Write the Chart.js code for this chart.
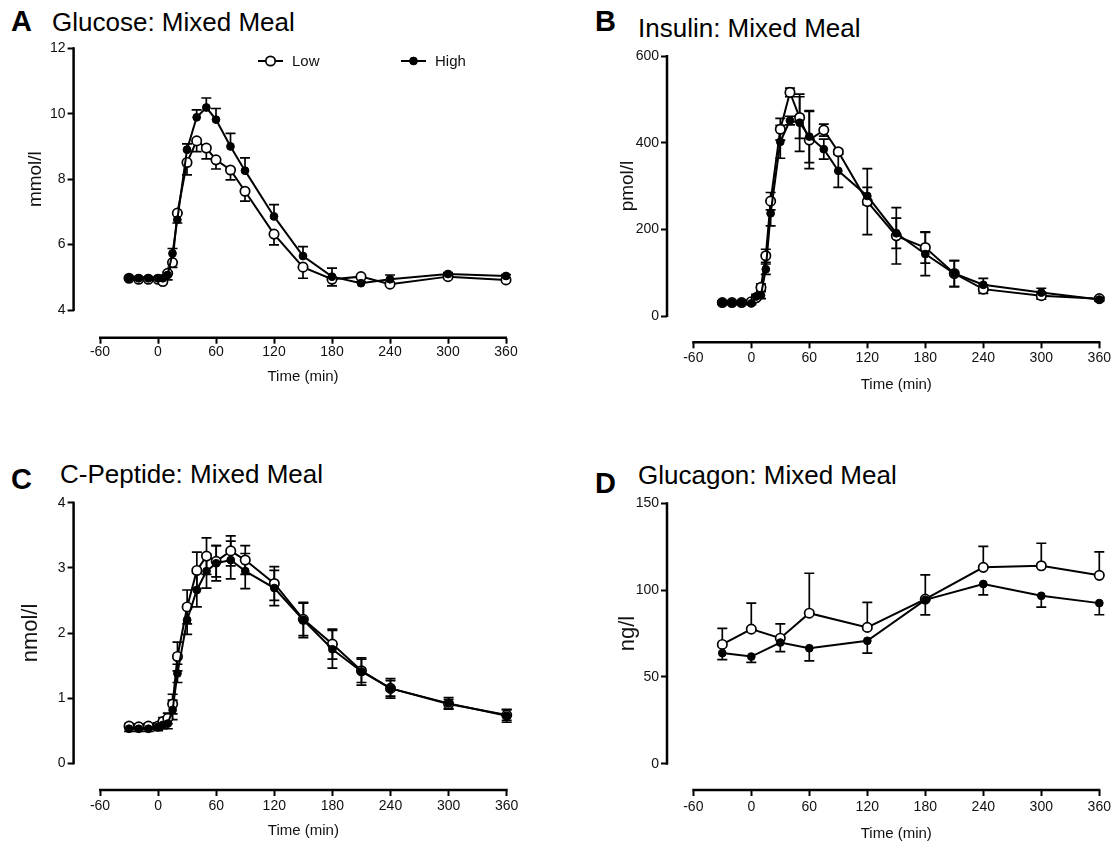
<!DOCTYPE html>
<html><head><meta charset="utf-8">
<script src="https://cdn.jsdelivr.net/npm/chart.js@4.4.1/dist/chart.umd.min.js"></script>
<style>
html,body{margin:0;padding:0;background:#fff;}
body{width:1116px;height:842px;position:relative;overflow:hidden;font-family:'Liberation Sans',Arial,sans-serif;}
canvas{position:absolute;}
.t{position:absolute;white-space:nowrap;line-height:1;color:#000;}
.L{font-weight:bold;font-size:29px;}
.T{font-size:26px;}
</style></head><body>
<div class="t L" style="left:11px;top:7px">A</div>
<div class="t T" style="left:52px;top:8.5px">Glucose: Mixed Meal</div>
<div class="t L" style="left:595px;top:7px">B</div>
<div class="t T" style="left:638px;top:14.7px">Insulin: Mixed Meal</div>
<div class="t L" style="left:11px;top:465px">C</div>
<div class="t T" style="left:60px;top:461px">C-Peptide: Mixed Meal</div>
<div class="t L" style="left:595px;top:468.5px">D</div>
<div class="t T" style="left:638px;top:462px">Glucagon: Mixed Meal</div>
<canvas id="cA" width="558" height="421" style="left:0;top:0"></canvas>
<canvas id="cB" width="558" height="421" style="left:558px;top:0"></canvas>
<canvas id="cC" width="558" height="421" style="left:0;top:421px"></canvas>
<canvas id="cD" width="558" height="421" style="left:558px;top:421px"></canvas>
<script>
// ---------- data ----------
const times = [-30,-20,-10,0,5,10,15,20,30,40,50,60,75,90,120,150,180,210,240,300,360];
const timeTicks = [-60,0,60,120,180,240,300,360];
const seriesLabels = ['Low','High'];

const glucoseTicks = [4,6,8,10,12];
const glucoseLow     = [4.97,4.94,4.94,4.94,4.87,5.12,5.45,6.96,8.51,9.17,8.95,8.59,8.28,7.63,6.32,5.31,4.94,5.02,4.79,5.02,4.92];
const glucoseLowSem  = [0.03,0.03,0.03,0.04,0.05,0.2,0.15,0.3,0.38,0.33,0.33,0.28,0.3,0.3,0.33,0.34,0.2,0.05,0.05,0.05,0.05];
const glucoseHigh    = [4.97,4.97,4.97,4.97,4.97,5.07,5.73,6.76,8.9,9.89,10.19,9.82,9.0,8.26,6.86,5.65,5.02,4.82,4.94,5.10,5.04];
const glucoseHighSem = [0.03,0.03,0.03,0.03,0.05,0.1,0.15,0.2,0.18,0.23,0.29,0.34,0.4,0.39,0.36,0.29,0.26,0.05,0.13,0.04,0.04];

const insulinTicks = [0,200,400,600];
const insulinLow     = [31,31,31,33,42,66,139,265,431,516,458,406,429,379,264,185,158,98,62,47,40];
const insulinLowSem  = [3,3,3,3,5,8,15,20,25,10,48,66,14,5,76,65,36,30,10,8,4];
const insulinHigh    = [31,31,31,29,45,48,108,237,402,451,446,414,385,335,277,191,143,98,72,54,38];
const insulinHighSem = [3,3,3,3,5,8,12,29,38,10,66,60,23,38,20,35,50,30,15,10,4];

const cpepTicks = [0,1,2,3,4];
const cpepLow     = [0.57,0.56,0.57,0.57,0.64,0.69,0.91,1.64,2.40,2.96,3.18,3.10,3.26,3.12,2.76,2.21,1.83,1.42,1.15,0.91,0.74];
const cpepLowSem  = [0.04,0.04,0.04,0.05,0.06,0.08,0.15,0.22,0.26,0.28,0.28,0.24,0.23,0.22,0.26,0.25,0.23,0.18,0.12,0.07,0.08];
const cpepHigh    = [0.53,0.53,0.53,0.56,0.59,0.61,0.82,1.38,2.20,2.66,2.95,3.07,3.12,2.95,2.69,2.20,1.75,1.41,1.15,0.92,0.73];
const cpepHighSem = [0.04,0.04,0.04,0.06,0.06,0.08,0.15,0.14,0.22,0.26,0.26,0.27,0.29,0.27,0.27,0.27,0.29,0.21,0.15,0.09,0.1];

const glucagonTimes = [-30,0,30,60,120,180,240,300,360];
const glucagonTicks = [0,50,100,150];
const glucagonLow     = [68.7,77.5,72.3,86.7,78.5,94.8,113.1,114.0,108.5];
const glucagonLowSem  = [9.2,15,8.3,23,14.4,14,12.1,13,13.5];
const glucagonHigh    = [63.7,61.7,69.8,66.5,70.8,94.4,103.5,96.7,92.5];
const glucagonHighSem = [3.8,3.3,5.2,7.3,7.1,8.7,6.2,6.5,6.7];

// ---------- layout / style ----------
const FONT = "'Liberation Sans', Arial, sans-serif";
const W = 558, H = 421;

const prismPlugin = {
  id: 'prism',
  beforeDatasetsDraw(chart, args, o) {
    const ctx = chart.ctx, xs = chart.scales.x, ys = chart.scales.y;
    const ca = chart.chartArea;
    ctx.save();
    ctx.strokeStyle = '#000';
    ctx.lineWidth = 2.5;
    ctx.lineCap = 'butt';
    const yt = o.yTicks;
    ctx.beginPath();
    ctx.moveTo(ca.left, ys.getPixelForValue(yt[yt.length-1]) - 1);
    ctx.lineTo(ca.left, ys.getPixelForValue(yt[0]) + 1);
    ctx.stroke();
    ctx.beginPath();
    ctx.moveTo(xs.getPixelForValue(timeTicks[0]) - 1, ca.bottom);
    ctx.lineTo(xs.getPixelForValue(timeTicks[timeTicks.length-1]) + 1, ca.bottom);
    ctx.stroke();
    // error bars
    ctx.lineWidth = 1.7;
    chart.data.datasets.forEach((ds, di) => {
      const meta = chart.getDatasetMeta(di);
      meta.data.forEach((el, i) => {
        const v = ds.data[i].y, e = ds.sem[i];
        const x = el.x;
        const yU = ys.getPixelForValue(v + e), yD = ys.getPixelForValue(v - e), y0 = ys.getPixelForValue(v);
        const ends = ds.errDir === 'up' ? [yU] : ds.errDir === 'down' ? [yD] : [yU, yD];
        ends.forEach(ye => {
          ctx.beginPath();
          ctx.moveTo(x, y0); ctx.lineTo(x, ye);
          ctx.moveTo(x - 5, ye); ctx.lineTo(x + 5, ye);
          ctx.stroke();
        });
      });
    });
    ctx.restore();
  },
  afterDraw(chart, args, o) {
    const ctx = chart.ctx, xs = chart.scales.x, ys = chart.scales.y;
    ctx.save();
    ctx.fillStyle = '#111';
    ctx.font = '15px ' + FONT;
    ctx.textAlign = 'center';
    ctx.textBaseline = 'middle';
    const xc = (xs.getPixelForValue(timeTicks[0]) + xs.getPixelForValue(timeTicks[timeTicks.length-1])) / 2;
    ctx.fillText('Time (min)', xc, o.xTitleY);
    const yt = o.yTicks;
    const yc = (ys.getPixelForValue(yt[0]) + ys.getPixelForValue(yt[yt.length-1])) / 2;
    ctx.translate(o.yTitleX, yc);
    ctx.rotate(-Math.PI / 2);
    ctx.font = o.yTitleSize + 'px ' + FONT;
    ctx.fillText(o.yTitle, 0, 0);
    ctx.restore();
    if (o.legend) {
      ctx.save();
      chart.data.datasets.forEach((ds, di) => {
        const L = o.legend[di];
        ctx.strokeStyle = '#000';
        ctx.lineWidth = 2;
        ctx.beginPath();
        ctx.moveTo(L.x0, L.y); ctx.lineTo(L.x0 + 25, L.y);
        ctx.stroke();
        ctx.beginPath();
        ctx.arc(L.x0 + 12.5, L.y, ds.pointRadius, 0, Math.PI * 2);
        ctx.fillStyle = ds.pointBackgroundColor;
        ctx.fill();
        ctx.lineWidth = ds.pointBorderWidth;
        ctx.stroke();
        ctx.fillStyle = '#111';
        ctx.font = '15px ' + FONT;
        ctx.textAlign = 'left';
        ctx.textBaseline = 'middle';
        ctx.fillText(ds.label, L.tx, L.y + 1);
      });
      ctx.restore();
    }
  }
};

function makeChart(p) {
  const xr = timeTicks[timeTicks.length-1] - timeTicks[0];
  const pxX = (p.x1 - p.x0) / xr;
  const xMin = timeTicks[0] - (p.x0 - p.axisX) / pxX;
  const yt = p.yTicks, yr = yt[yt.length-1] - yt[0];
  const pxY = (p.yBotPx - p.yTopPx) / yr;
  const yMin = yt[0] - (p.axisY - p.yBotPx) / pxY;
  const mk = (arr) => p.times.map((t, i) => ({x: t, y: arr[i]}));
  new Chart(document.getElementById(p.id), {
    type: 'line',
    data: { datasets: [
      { label: seriesLabels[0], data: mk(p.low), sem: p.lowSem, errDir: p.lowDir,
        borderColor: '#000', backgroundColor: '#fff', borderWidth: 2,
        pointBackgroundColor: '#fff', pointBorderColor: '#000', pointBorderWidth: 1.7, pointRadius: 4.7,
        order: 1, clip: false, tension: 0 },
      { label: seriesLabels[1], data: mk(p.high), sem: p.highSem, errDir: p.highDir,
        borderColor: '#000', backgroundColor: '#000', borderWidth: 2,
        pointBackgroundColor: '#000', pointBorderColor: '#000', pointBorderWidth: 1, pointRadius: 3.9,
        order: 0, clip: false, tension: 0 }
    ]},
    options: {
      responsive: false, animation: false, devicePixelRatio: 1,
      events: [],
      layout: { padding: { left: 0, top: p.yTopPx, right: W - p.x1, bottom: 0 } },
      plugins: {
        legend: { display: false }, tooltip: { enabled: false },
        prism: { yTicks: p.yTicks, yTitle: p.yTitle, yTitleX: p.yTitleX, yTitleSize: p.yTitleSize,
                 xTitleY: p.xTitleY, legend: p.legend }
      },
      scales: {
        x: { type: 'linear', min: xMin, max: timeTicks[timeTicks.length-1],
             afterBuildTicks: s => { s.ticks = timeTicks.map(v => ({value: v})); },
             afterFit: s => { s.height = H - p.axisY; },
             border: { display: false },
             grid: { display: true, drawOnChartArea: false, drawTicks: true, tickLength: 6, tickWidth: 2, tickColor: '#000' },
             ticks: { padding: p.xTickPad, color: '#111', font: { family: FONT, size: 14 }, maxRotation: 0, autoSkip: false,
                      callback: v => String(v) } },
        y: { type: 'linear', min: yMin, max: yt[yt.length-1],
             afterBuildTicks: s => { s.ticks = yt.map(v => ({value: v})); },
             afterFit: s => { s.width = p.axisX; },
             border: { display: false },
             grid: { display: true, drawOnChartArea: false, drawTicks: true, tickLength: 6, tickWidth: 2, tickColor: '#000' },
             ticks: { padding: 2, color: '#111', font: { family: FONT, size: 14 }, autoSkip: false,
                      callback: v => String(v) } }
      }
    },
    plugins: [prismPlugin]
  });
}

makeChart({ id: 'cA', times: times, low: glucoseLow, lowSem: glucoseLowSem, lowDir: 'down',
  high: glucoseHigh, highSem: glucoseHighSem, highDir: 'up', yTicks: glucoseTicks,
  axisX: 73.6, x0: 100, x1: 506, axisY: 337.7, yTopPx: 48.3, yBotPx: 310, xTickPad: 0,
  yTitle: 'mmol/l', yTitleX: 36, yTitleSize: 19, xTitleY: 377,
  legend: [ { x0: 258, y: 61, tx: 292 }, { x0: 401, y: 61, tx: 435 } ] });

makeChart({ id: 'cB', times: times, low: insulinLow, lowSem: insulinLowSem, lowDir: 'both',
  high: insulinHigh, highSem: insulinHighSem, highDir: 'both', yTicks: insulinTicks,
  axisX: 109, x0: 135.3, x1: 541.3, axisY: 342.3, yTopPx: 56, yBotPx: 316, xTickPad: 1,
  yTitle: 'pmol/l', yTitleX: 70, yTitleSize: 19, xTitleY: 385, legend: null });

makeChart({ id: 'cC', times: times, low: cpepLow, lowSem: cpepLowSem, lowDir: 'both',
  high: cpepHigh, highSem: cpepHighSem, highDir: 'both', yTicks: cpepTicks,
  axisX: 73.6, x0: 100, x1: 506.7, axisY: 369, yTopPx: 81.7, yBotPx: 342.3, xTickPad: 2,
  yTitle: 'nmol/l', yTitleX: 31, yTitleSize: 22, xTitleY: 410, legend: null });

makeChart({ id: 'cD', times: glucagonTimes, low: glucagonLow, lowSem: glucagonLowSem, lowDir: 'up',
  high: glucagonHigh, highSem: glucagonHighSem, highDir: 'down', yTicks: glucagonTicks,
  axisX: 109, x0: 135.3, x1: 541.3, axisY: 369, yTopPx: 82.3, yBotPx: 342.7, xTickPad: 2.5,
  yTitle: 'ng/l', yTitleX: 70, yTitleSize: 22, xTitleY: 413, legend: null });
</script>
</body></html>
